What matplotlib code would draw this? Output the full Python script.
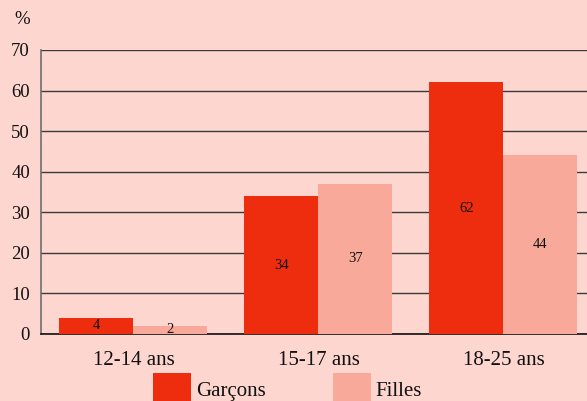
import matplotlib
matplotlib.use("Agg")
import matplotlib.pyplot as plt
import numpy as np
from matplotlib.patches import Patch

categories = ["12-14 ans", "15-17 ans", "18-25 ans"]
garcons = [4, 34, 62]
filles = [2, 37, 44]
series_names = ["Garçons", "Filles"]
yticks = [0, 10, 20, 30, 40, 50, 60, 70]

bg = "#FDD6CF"
c_g = "#EE2D0E"
c_f = "#F8A99A"

plt.rcParams['font.family'] = ['Liberation Serif', 'DejaVu Serif']

W, H = 587, 401
fig = plt.figure(figsize=(W/100, H/100), dpi=100, facecolor=bg)
ax = fig.add_axes([41/W, 67/H, 555/W, 284/H])
ax.set_facecolor(bg)

x = np.arange(len(categories))
w = 0.4
b1 = ax.bar(x - w/2, garcons, w, color=c_g, zorder=3)
b2 = ax.bar(x + w/2, filles, w, color=c_f, zorder=3)
for bars, vals in ((b1, garcons), (b2, filles)):
    for r, v in zip(bars, vals):
        ax.text(r.get_x() + r.get_width()/2, v/2, str(v), ha='center', va='center',
                fontsize=10.5, color='#111111', zorder=4)

ax.set_xlim(-0.5, 2.5)
ax.set_ylim(0, 70)
ax.set_yticks(yticks)
ax.yaxis.grid(True, color='#3a3a3a', linewidth=1.0, zorder=0)
ax.set_axisbelow(True)
ax.set_xticks(x)
ax.set_xticklabels(categories, fontsize=15, color='#111111')
ax.tick_params(axis='x', length=0, pad=12)
ax.tick_params(axis='y', length=0, pad=8, labelsize=13.5, labelcolor='#111111')
for s in ['top', 'right']:
    ax.spines[s].set_visible(False)
ax.spines['left'].set_color('#6e6e6e')
ax.spines['bottom'].set_color('#111111')
ax.spines['left'].set_linewidth(1.2)
ax.spines['bottom'].set_linewidth(1.2)

fig.text(22/W, 1 - 20/H, "%", ha='center', va='center', fontsize=13.5, color='#111111')

handles = [Patch(facecolor=c_g), Patch(facecolor=c_f)]
leg = fig.legend(handles, series_names, loc='upper left', bbox_to_anchor=(153/W, 1 - 373/H),
                 ncol=2, frameon=False, fontsize=15, handlelength=1.8, handleheight=2.0,
                 handletextpad=0.25, columnspacing=3.25, borderpad=0, borderaxespad=0)
for t in leg.get_texts():
    t.set_color('#111111')

fig.savefig("out.png", dpi=100, facecolor=bg)
